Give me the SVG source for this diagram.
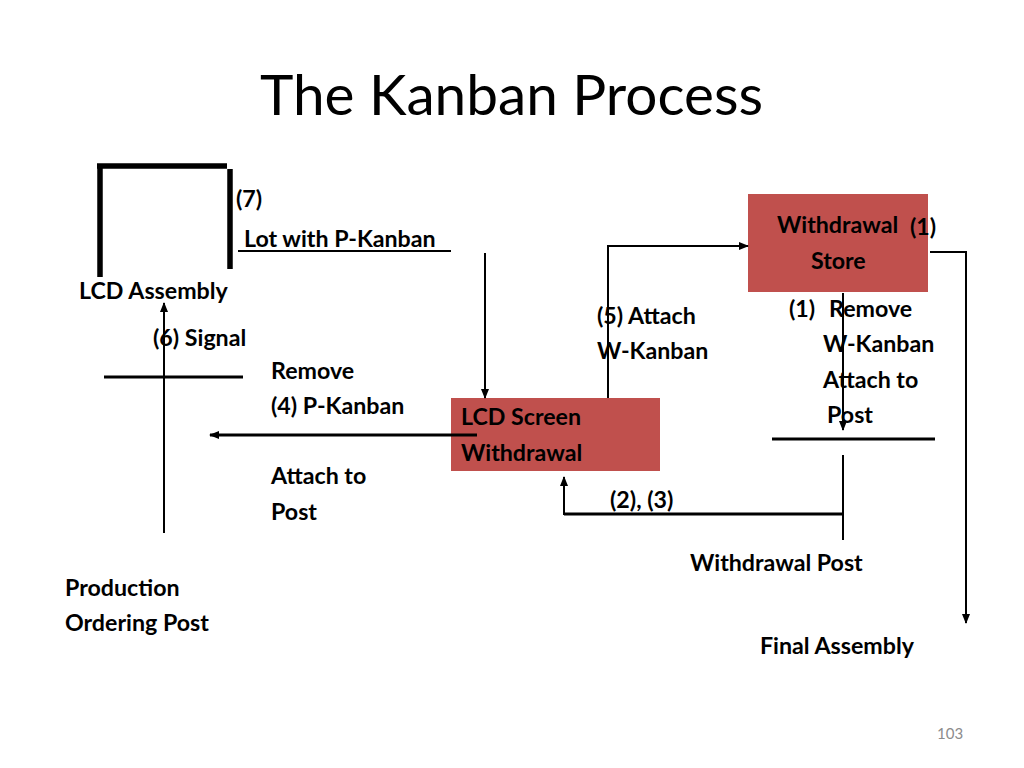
<svg xmlns="http://www.w3.org/2000/svg" width="1024" height="768" viewBox="0 0 1024 768">
  <style>
    .t { font-family: Lato, "Liberation Sans", sans-serif; font-weight: bold; font-size: 23.2px; fill: #000; }
    .title { font-family: Lato, "Liberation Sans", sans-serif; font-size: 56px; fill: #000; }
    .pg { font-family: Lato, "Liberation Sans", sans-serif; font-size: 15px; fill: #8c8c8c; }
    .box { fill: #C0504D; stroke: none; }
    .c { fill: none; stroke: #000; stroke-width: 2; }
    .c3 { fill: none; stroke: #000; stroke-width: 3; }
    .thick { fill: none; stroke: #000; stroke-width: 5.5; }
  </style>
  <defs>
    <marker id="ah" markerUnits="userSpaceOnUse" markerWidth="10" markerHeight="10" viewBox="0 0 10 10" refX="9" refY="5" orient="auto">
      <path d="M0,1 L10,5 L0,9 z" fill="#000"/>
    </marker>
  </defs>
  <rect width="1024" height="768" fill="#fff"/>

  <text class="title" x="260" y="115" textLength="503" lengthAdjust="spacingAndGlyphs">The Kanban Process</text>

  <g id="lcd-assembly">
    <path class="thick" d="M100,277 V166 M97,166 H227 M230,169 V269"/>
    <text class="t" x="79" y="299">LCD Assembly</text>
  </g>

  <g id="production-ordering-post">
    <path class="c3" d="M104,377 H243"/>
    <text class="t" x="65" y="596">Production</text>
    <text class="t" x="65" y="631">Ordering Post</text>
  </g>

  <g id="lcd-screen-withdrawal">
    <rect class="box" x="451" y="398" width="209" height="73"/>
    <text class="t" x="461" y="425">LCD Screen</text>
    <text class="t" x="461" y="461">Withdrawal</text>
  </g>

  <g id="withdrawal-store">
    <rect class="box" x="748" y="194" width="180" height="98"/>
    <text class="t" x="777" y="233">Withdrawal</text>
    <text class="t" x="910" y="235">(1)</text>
    <text class="t" x="811" y="269">Store</text>
  </g>

  <g id="withdrawal-post">
    <path class="c3" d="M772,439 H935"/>
    <text class="t" x="690" y="571">Withdrawal Post</text>
  </g>

  <g id="final-assembly">
    <text class="t" x="760" y="654">Final Assembly</text>
  </g>

  <g id="labels">
    <text class="t" x="236" y="207">(7)</text>
    <text class="t" x="244" y="247">Lot with P-Kanban</text>
    <text class="t" x="153" y="346">(6) Signal</text>
    <text class="t" x="271" y="379">Remove</text>
    <text class="t" x="271" y="414">(4) P-Kanban</text>
    <text class="t" x="271" y="484">Attach to</text>
    <text class="t" x="271" y="520">Post</text>
    <text class="t" x="597" y="324">(5) Attach</text>
    <text class="t" x="597" y="359">W-Kanban</text>
    <text class="t" x="789" y="317">(1)</text>
    <text class="t" x="829" y="317">Remove</text>
    <text class="t" x="823" y="352">W-Kanban</text>
    <text class="t" x="823" y="388">Attach to</text>
    <text class="t" x="827" y="423">Post</text>
    <text class="t" x="610" y="508">(2), (3)</text>
  </g>

  <g id="connectors">
    <path class="c" d="M238,251 H451"/>
    <path class="c" d="M164,533 V303" marker-end="url(#ah)"/>
    <path class="c3" d="M477,435 H210" marker-end="url(#ah)"/>
    <path class="c" d="M485,253 V398" marker-end="url(#ah)"/>
    <path class="c" d="M608,398 V246 H748" marker-end="url(#ah)"/>
    <path class="c" d="M930,252 H966 V623" marker-end="url(#ah)"/>
    <path class="c" d="M843,293 V430" marker-end="url(#ah)"/>
    <path class="c" d="M843,455 V540"/>
    <path class="c3" d="M843,514 H564"/>
    <path class="c" d="M564,515 V477" marker-end="url(#ah)"/>
  </g>

  <text class="pg" x="937" y="739">103</text>
</svg>
